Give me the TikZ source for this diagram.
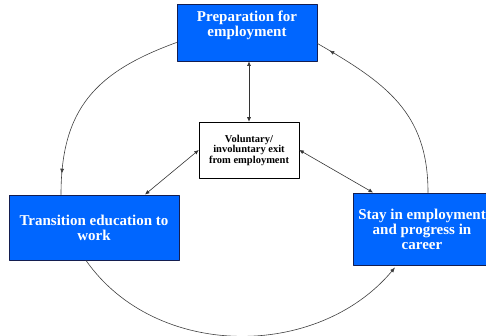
\documentclass[tikz,border=0pt]{standalone}
\usepackage{fontspec}
\setmainfont{Liberation Serif}
\usetikzlibrary{arrows.meta,decorations.markings}
\definecolor{boxblue}{RGB}{0,102,255}
\definecolor{boxedge}{RGB}{20,30,80}

\begin{document}
\begin{tikzpicture}[x=1pt, y=1pt, line cap=round, line join=round,
    box/.style={draw=boxedge, fill=boxblue, line width=0.9pt, text=white,
      font=\bfseries\fontsize{15}{15}\selectfont, align=center, inner sep=2pt},
    exitbox/.style={draw=black, fill=white, line width=0.5pt,
      font=\bfseries\fontsize{10.5}{10.5}\selectfont, align=center,
      minimum width=100pt, minimum height=56pt, inner sep=1pt},
    link/.style={draw=black!80, line width=0.6pt,
      {Latex[length=4.5pt,width=4pt]}-{Latex[length=4.5pt,width=4pt]}},
    cyc/.style={draw=black!75, line width=0.6pt},
    tipat/.style={postaction={decorate}, decoration={markings,
      mark=at position #1 with {\arrow{Latex[length=5pt,width=4pt]}}}}]
  \clip (0,0) rectangle (486,336);
  \node[box, minimum width=140pt, minimum height=57pt] (prep) at (247,303.5)
    {\parbox[t][44pt][t]{134pt}{\centering Preparation for\\employment}};
  \node[exitbox] (exit) at (249,186) {Voluntary/\\involuntary exit\\from employment};
  \node[box, minimum width=170pt, minimum height=65pt] (trans) at (94,108.5)
    {Transition education to\\work};
  \node[box, minimum width=138pt, minimum height=72pt] (stay) at (422,107)
    {Stay in employment\\and progress in\\career};
  % links to the exit box
  \draw[link] (prep.south -| exit.north) -- (exit.north);
  \draw[link] (exit.west) -- ([xshift=51pt]trans.north);
  \draw[link] (exit.east) -- ([xshift=-49pt]stay.north);
  % the cycle
  \draw[cyc, tipat=0.9] ([yshift=-10pt]prep.west)
    to[out=200, in=90, looseness=1.15] ([xshift=-33pt]trans.north);
  \draw[cyc, -{Latex[length=5pt,width=4pt]}] ([xshift=-8pt]trans.south)
    to[out=-55, in=-130] ([xshift=-27pt,yshift=-2pt]stay.south);
  \draw[cyc, tipat=0.93] ([xshift=6pt]stay.north)
    to[out=90, in=-30, looseness=1.1] ([yshift=-11pt]prep.east);
\end{tikzpicture}
\end{document}
